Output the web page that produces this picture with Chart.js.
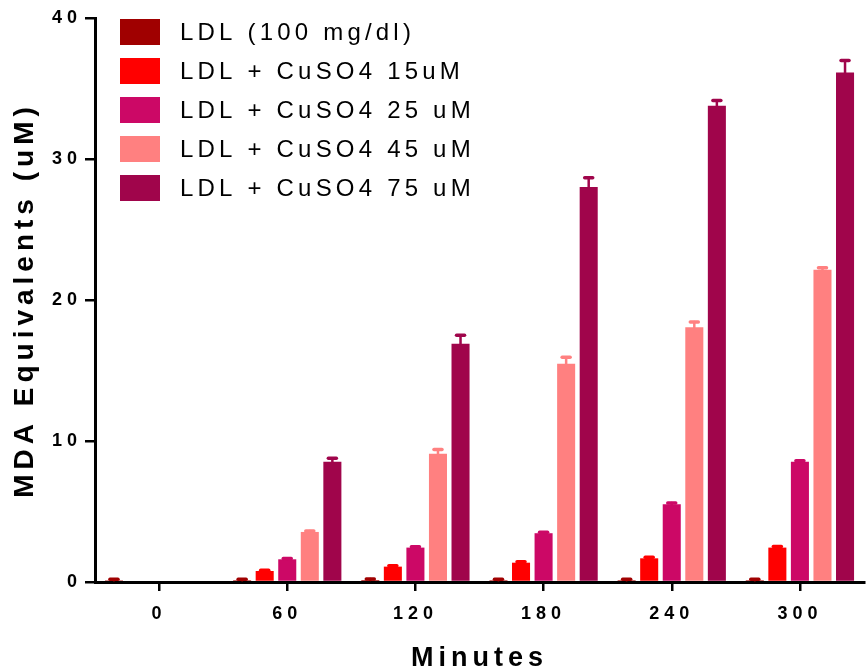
<!DOCTYPE html>
<html>
<head>
<meta charset="utf-8">
<title>MDA Equivalents</title>
<script src="https://cdn.jsdelivr.net/npm/chart.js@4.4.1/dist/chart.umd.min.js"></script>
<style>
  html, body { margin: 0; padding: 0; background: #fff; }
  #wrap { position: relative; width: 866px; height: 669px; }
</style>
</head>
<body>
<div id="wrap"><canvas id="mdaChart"></canvas></div>
<script>
// ---- data ----
const minutes = ['0', '60', '120', '180', '240', '300'];
const seriesNames = ['LDL (100 mg/dl)', 'LDL + CuSO4 15uM', 'LDL + CuSO4 25 uM', 'LDL + CuSO4 45 uM', 'LDL + CuSO4 75 uM'];
const seriesColors = ['#a00000', '#ff0000', '#cc0866', '#ff8080', '#a0054b'];

const ldl   = [0.12, 0.13, 0.14, 0.13, 0.13, 0.13];
const cu15  = [0, 0.78, 1.09, 1.37, 1.68, 2.44];
const cu25  = [0, 1.61, 2.44, 3.46, 5.52, 8.53];
const cu45  = [0, 3.55, 9.09, 15.47, 18.07, 22.15];
const cu75  = [0, 8.53, 16.9, 28.01, 33.77, 36.14];

const ldlErr  = [0.07, 0.07, 0.07, 0.07, 0.07, 0.07];
const cu15Err = [0, 0.06, 0.06, 0.07, 0.07, 0.07];
const cu25Err = [0, 0.06, 0.06, 0.07, 0.08, 0.07];
const cu45Err = [0, 0.06, 0.31, 0.47, 0.37, 0.13];
const cu75Err = [0, 0.25, 0.6, 0.66, 0.38, 0.85];

const yTicks = [0, 10, 20, 30, 40];

const FONT = '"Liberation Sans", Arial, Helvetica, sans-serif';

const seriesValues = [ldl, cu15, cu25, cu45, cu75];
const seriesErrors = [ldlErr, cu15Err, cu25Err, cu45Err, cu75Err];

// ---- small plugins: letter spacing, error caps, legend inside plot ----
const spacingPlugin = {
  id: 'spacing',
  beforeDraw(chart) { chart.ctx.letterSpacing = '5px'; }
};

const errorBars = {
  id: 'errorBars',
  afterDatasetsDraw(chart) {
    const ctx = chart.ctx;
    const y = chart.scales.y;
    chart.data.datasets.forEach((ds, i) => {
      const meta = chart.getDatasetMeta(i);
      meta.data.forEach((bar, j) => {
        const err = ds.errors[j];
        if (!err) return;
        const top = y.getPixelForValue(ds.data[j] + err);
        ctx.save();
        ctx.strokeStyle = ds.backgroundColor;
        ctx.lineCap = 'round';
        ctx.lineWidth = 2.5;
        ctx.beginPath();
        ctx.moveTo(bar.x, bar.y);
        ctx.lineTo(bar.x, top);
        ctx.stroke();
        ctx.lineWidth = 3.5;
        ctx.beginPath();
        ctx.moveTo(bar.x - 4, top);
        ctx.lineTo(bar.x + 4, top);
        ctx.stroke();
        ctx.restore();
      });
    });
  }
};

const innerLegend = {
  id: 'innerLegend',
  afterDraw(chart) {
    const ctx = chart.ctx;
    const area = chart.chartArea;
    const x0 = area.left + 25;
    const y0 = area.top + 1;
    ctx.save();
    ctx.letterSpacing = '4.2px';
    ctx.font = '24px ' + FONT;
    ctx.textBaseline = 'middle';
    ctx.textAlign = 'left';
    chart.data.datasets.forEach((ds, i) => {
      const top = y0 + i * 39;
      ctx.fillStyle = ds.backgroundColor;
      ctx.fillRect(x0, top, 40, 26);
      ctx.fillStyle = '#000';
      ctx.fillText(ds.label, x0 + 60, top + 14);
    });
    ctx.restore();
  }
};

const datasets = seriesNames.map((name, i) => ({
  label: name,
  data: seriesValues[i],
  errors: seriesErrors[i],
  backgroundColor: seriesColors[i],
  borderWidth: 0,
  categoryPercentage: 0.88,
  barPercentage: 0.8
}));

new Chart(document.getElementById('mdaChart'), {
  type: 'bar',
  data: { labels: minutes, datasets: datasets },
  options: {
    responsive: true,
    maintainAspectRatio: false,
    animation: false,
    layout: { padding: { top: 18, right: 2, bottom: 0, left: 0 } },
    plugins: {
      legend: { display: false },
      tooltip: { enabled: false }
    },
    scales: {
      x: {
        offset: true,
        grid: { display: true, offset: false, drawOnChartArea: false, drawTicks: true, tickLength: 9, color: '#000', lineWidth: 2.5 },
        border: { display: true, color: '#000', width: 3 },
        ticks: { color: '#000', padding: 12, font: { family: FONT, size: 18, weight: 'bold' }, maxRotation: 0 },
        title: { display: true, text: 'Minutes', color: '#000', font: { family: FONT, size: 27, weight: 'bold', lineHeight: 1 }, padding: { top: 0, bottom: -3 } },
        afterFit: s => { s.height = 87; }
      },
      y: {
        min: 0,
        max: 40,
        afterBuildTicks: s => { s.ticks = yTicks.map(v => ({ value: v })); },
        grid: { display: true, drawOnChartArea: false, drawTicks: true, tickLength: 10, color: '#000', lineWidth: 2.5 },
        border: { display: true, color: '#000', width: 3 },
        ticks: { color: '#000', padding: 3, font: { family: FONT, size: 18, weight: 'bold' } },
        title: { display: true, text: 'MDA Equivalents (uM)', color: '#000', font: { family: FONT, size: 28, weight: 'bold', lineHeight: 1.2 }, padding: { top: 8, bottom: 0 } },
        afterFit: s => { s.width = 95; }
      }
    }
  },
  plugins: [spacingPlugin, errorBars, innerLegend]
});
</script>
</body>
</html>
